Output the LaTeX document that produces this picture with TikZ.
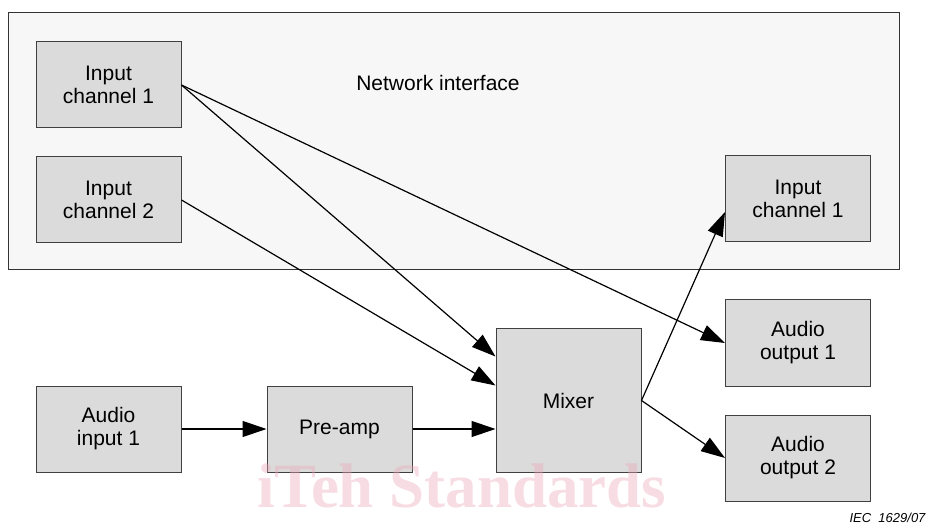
\documentclass[tikz,border=0pt]{standalone}
\usepackage{fontspec}
\setmainfont{Liberation Sans}
\newfontfamily\wmfont{Liberation Serif}
\usetikzlibrary{arrows.meta,positioning}
\definecolor{wmpink}{RGB}{236,170,186}

\begin{document}
\begin{tikzpicture}[x=1pt,y=-1pt]
    \tikzstyle{unit} = [shape=rectangle, draw=black!75, fill=black!14, line width=1pt, minimum width=145pt, minimum height=86pt, align=center, font=\fontsize{21}{23}\selectfont]
    \tikzstyle{link} = [line width=1.2pt, -{Triangle[length=24pt,width=16pt]}]
    \useasboundingbox (0,0) rectangle (931,526);

    \node (net) [draw=black!80, fill=black!3, line width=1pt, minimum width=891pt, minimum height=257pt] at (453.5,141.5) {};
    \node (netlabel) [font=\fontsize{21}{23}\selectfont] at (438,83) {Network interface};

    \node (in1)  [unit]                      at (108.5,85)  {Input\\channel 1};
    \node (in2)  [unit] [below=28pt of in1]                 {Input\\channel 2};
    \node (nin1) [unit]                      at (798,199)   {Input\\channel 1};
    \node (out1) [unit]                      at (798,343)   {Audio\\output 1};
    \node (out2) [unit] [below=28pt of out1]                {Audio\\output 2};
    \node (ain)  [unit]                      at (108.5,429) {Audio\\input 1};
    \node (pre)  [unit] [right=85pt of ain]                 {Pre-amp};
    \node (mix)  [unit, minimum height=143pt] at (568.5,400.5) {Mixer};

    \draw [link] (in1.east) -- ([yshift=44pt]mix.west);
    \draw [link] (in1.east) -- (out1.west);
    \draw [link] (in2.east) -- ([yshift=15pt]mix.west);
    \draw [link] (ain.east) -- (pre.west);
    \draw [link] (pre.east) -- (pre.east -| mix.west);
    \draw [link] (mix.east) -- ([yshift=-13pt]nin1.west);
    \draw [link] (mix.east) -- (out2.west);

    \node (fig) [anchor=base east, font=\fontsize{13}{15}\selectfont\itshape] at (929,522) {IEC\ \ 1629/07};
    \node (wm) [anchor=base west, inner sep=0pt, text=wmpink, text opacity=0.4, font=\wmfont\bfseries\fontsize{63}{63}\selectfont] at (257,507) {iTeh Standards};
\end{tikzpicture}
\end{document}
